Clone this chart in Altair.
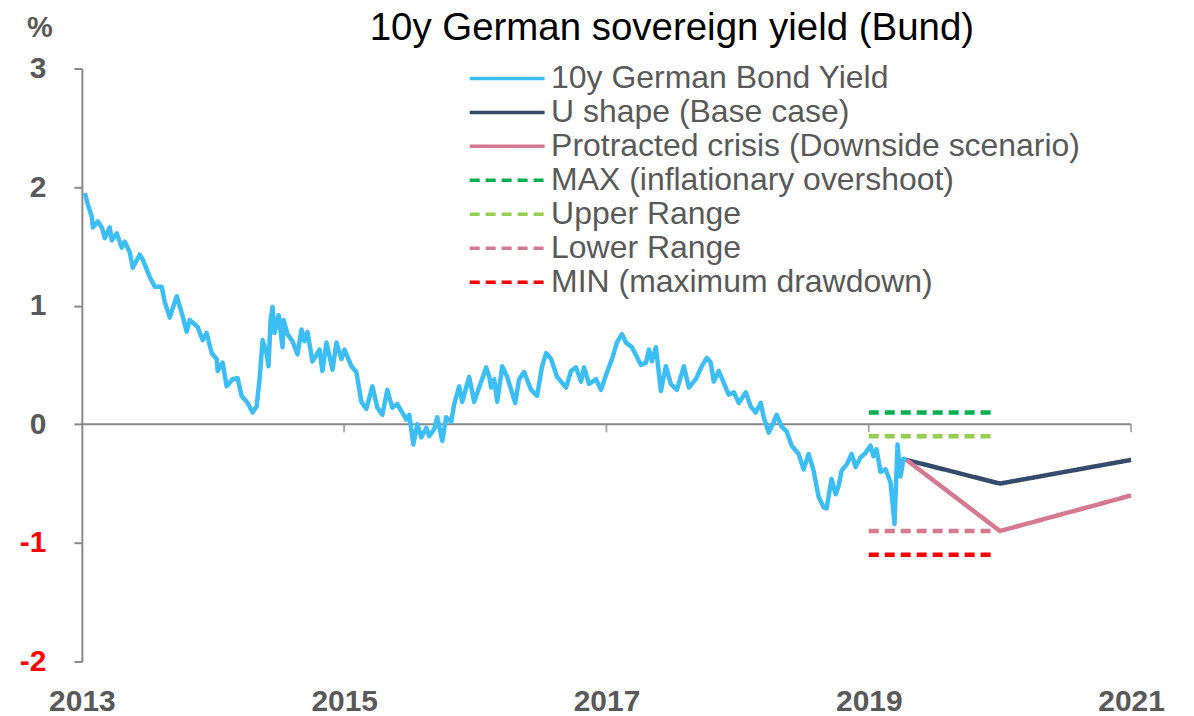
import altair as alt
import pandas as pd

FONT = "Liberation Sans"

# ---- data (x axis in label-years) ----
hist_years = [
    2013.023, 2013.046, 2013.076, 2013.084, 2013.122, 2013.152, 2013.175, 2013.213, 2013.228, 2013.266,
    2013.304, 2013.327, 2013.365, 2013.388, 2013.441, 2013.464, 2013.518, 2013.556, 2013.609, 2013.632,
    2013.670, 2013.723, 2013.769, 2013.799, 2013.822, 2013.883, 2013.921, 2013.951, 2013.990, 2014.028,
    2014.035, 2014.073, 2014.104, 2014.149, 2014.187, 2014.218, 2014.264, 2014.302, 2014.332, 2014.355,
    2014.378, 2014.408, 2014.423, 2014.439, 2014.454, 2014.469, 2014.500, 2014.530, 2014.538, 2014.568,
    2014.606, 2014.644, 2014.675, 2014.697, 2014.720, 2014.758, 2014.812, 2014.834, 2014.865, 2014.911,
    2014.941, 2014.979, 2015.002, 2015.055, 2015.093, 2015.131, 2015.169, 2015.215, 2015.253, 2015.291,
    2015.329, 2015.367, 2015.405, 2015.474, 2015.497, 2015.527, 2015.558, 2015.588, 2015.626, 2015.649,
    2015.687, 2015.710, 2015.748, 2015.778, 2015.816, 2015.839, 2015.877, 2015.900, 2015.953, 2015.991,
    2016.029, 2016.083, 2016.106, 2016.121, 2016.144, 2016.167, 2016.205, 2016.243, 2016.304, 2016.334,
    2016.372, 2016.425, 2016.471, 2016.509, 2016.540, 2016.578, 2016.623, 2016.692, 2016.730, 2016.768,
    2016.806, 2016.829, 2016.867, 2016.920, 2016.958, 2017.004, 2017.042, 2017.080, 2017.118, 2017.148,
    2017.194, 2017.263, 2017.301, 2017.324, 2017.346, 2017.377, 2017.415, 2017.453, 2017.491, 2017.537,
    2017.590, 2017.628, 2017.681, 2017.727, 2017.765, 2017.795, 2017.818, 2017.856, 2017.894, 2017.932,
    2017.971, 2018.009, 2018.062, 2018.100, 2018.138, 2018.176, 2018.199, 2018.237, 2018.275, 2018.298,
    2018.336, 2018.374, 2018.412, 2018.465, 2018.503, 2018.541, 2018.579, 2018.617, 2018.656, 2018.678,
    2018.716, 2018.747, 2018.770, 2018.793, 2018.831, 2018.869, 2018.899, 2018.937, 2018.975, 2019.013,
    2019.036, 2019.059, 2019.089, 2019.128, 2019.166, 2019.196, 2019.219, 2019.242, 2019.265, 2019.287,
]
hist_yield = [
    1.95, 1.85, 1.75, 1.66, 1.71, 1.66, 1.57, 1.66, 1.55, 1.61,
    1.49, 1.54, 1.45, 1.32, 1.43, 1.39, 1.24, 1.16, 1.16, 1.03,
    0.90, 1.08, 0.91, 0.78, 0.88, 0.82, 0.71, 0.77, 0.60, 0.55,
    0.45, 0.52, 0.32, 0.38, 0.39, 0.24, 0.18, 0.10, 0.15, 0.38,
    0.71, 0.60, 0.49, 0.88, 0.99, 0.77, 0.92, 0.65, 0.88, 0.76,
    0.70, 0.59, 0.80, 0.70, 0.78, 0.53, 0.63, 0.45, 0.69, 0.46,
    0.69, 0.55, 0.63, 0.49, 0.44, 0.19, 0.13, 0.32, 0.14, 0.08,
    0.29, 0.14, 0.17, 0.04, 0.08, -0.17, 0.00, -0.11, -0.03, -0.10,
    -0.04, 0.06, -0.14, 0.06, 0.02, 0.17, 0.32, 0.19, 0.40, 0.19,
    0.31, 0.48, 0.40, 0.31, 0.38, 0.19, 0.49, 0.40, 0.18, 0.38,
    0.44, 0.29, 0.24, 0.49, 0.60, 0.55, 0.40, 0.31, 0.45, 0.48,
    0.36, 0.48, 0.34, 0.38, 0.29, 0.44, 0.55, 0.69, 0.76, 0.69,
    0.65, 0.50, 0.52, 0.63, 0.53, 0.65, 0.28, 0.49, 0.34, 0.29,
    0.49, 0.31, 0.38, 0.49, 0.56, 0.52, 0.36, 0.45, 0.35, 0.25,
    0.27, 0.18, 0.27, 0.15, 0.10, 0.18, 0.06, -0.07, 0.02, 0.08,
    -0.02, -0.06, -0.18, -0.25, -0.38, -0.25, -0.39, -0.61, -0.70, -0.71,
    -0.46, -0.59, -0.52, -0.39, -0.34, -0.25, -0.36, -0.28, -0.24, -0.18,
    -0.27, -0.21, -0.40, -0.38, -0.49, -0.84, -0.17, -0.44, -0.29, -0.30,
]

scenario_years = [2019.287, 2020.0, 2021.0]
base_case = [-0.30, -0.50, -0.30]
downside = [-0.30, -0.90, -0.60]

range_years = [2019.0, 2019.96]
max_level = 0.10
upper_level = -0.10
lower_level = -0.90
min_level = -1.10

x_ticks = [2013, 2015, 2017, 2019, 2021]
y_ticks = [-2, -1, 0, 1, 2, 3]

title_text = "10y German sovereign yield (Bund)"
unit_text = "%"

series_names = [
    "10y German Bond Yield",
    "U shape (Base case)",
    "Protracted crisis (Downside scenario)",
    "MAX (inflationary overshoot)",
    "Upper Range",
    "Lower Range",
    "MIN (maximum drawdown)",
]
series_colors = ["#3CBEF5", "#344B6B", "#D4798F", "#00B050", "#92D050", "#D4798F", "#FF0000"]
series_dashes = [[1, 0], [1, 0], [1, 0], [10, 6], [10, 6], [10, 6], [10, 6]]

# ---- long table ----
rows = []
for i, (x, v) in enumerate(zip(hist_years, hist_yield)):
    rows.append({"series": series_names[0], "year": x, "value": v, "idx": i})
for i, (x, v) in enumerate(zip(scenario_years, base_case)):
    rows.append({"series": series_names[1], "year": x, "value": v, "idx": i})
for i, (x, v) in enumerate(zip(scenario_years, downside)):
    rows.append({"series": series_names[2], "year": x, "value": v, "idx": i})
for name, lvl in zip(series_names[3:], [max_level, upper_level, lower_level, min_level]):
    for i, x in enumerate(range_years):
        rows.append({"series": name, "year": x, "value": lvl, "idx": i})
df = pd.DataFrame(rows)

GRAY = "#898989"
LABEL = "#595959"

x_scale = alt.Scale(domain=[2013, 2021], nice=False, zero=False)
y_scale = alt.Scale(domain=[-2, 3], nice=False, zero=False)

# long thin legend symbol: path in a unit box scaled by sqrt(size)/2
legend = alt.Legend(
    title=None, orient="none", legendX=410, legendY=-6,
    symbolType="M-5,0H5", symbolSize=225, symbolStrokeWidth=3.5,
    labelFont=FONT, labelFontSize=32, labelColor=LABEL, labelLimit=0,
    labelOffset=28, rowPadding=2,
)

lines = alt.Chart(df).mark_line(strokeWidth=4.5, strokeJoin="round").encode(
    x=alt.X("year:Q", scale=x_scale,
            axis=alt.Axis(values=x_ticks, format="d", title=None, domain=False, ticks=False,
                          grid=False, labelFont=FONT, labelFontSize=30, labelFontWeight="bold",
                          labelColor=LABEL, labelPadding=25, labelFlush=False)),
    y=alt.Y("value:Q", scale=y_scale,
            axis=alt.Axis(values=y_ticks, labelExpr="'' + datum.value", title=None, grid=False,
                          domainColor=GRAY, domainWidth=2, tickColor=GRAY, tickWidth=2, tickSize=8,
                          labelFont=FONT, labelFontSize=30, labelFontWeight="bold",
                          labelColor=alt.condition("datum.value < 0", alt.value("#FF0000"), alt.value(LABEL)),
                          labelPadding=28)),
    color=alt.Color("series:N", scale=alt.Scale(domain=series_names, range=series_colors), legend=legend),
    strokeDash=alt.StrokeDash("series:N", scale=alt.Scale(domain=series_names, range=series_dashes), legend=legend),
    order=alt.Order("idx:Q"),
)

zero_line = alt.Chart(pd.DataFrame({"v": [0]})).mark_rule(color=GRAY, strokeWidth=2).encode(
    y=alt.Y("v:Q", scale=y_scale),
    x=alt.datum(x_ticks[0]),
    x2=alt.datum(x_ticks[-1]),
)

zero_ticks = alt.Chart(pd.DataFrame({"t": x_ticks[1:]})).mark_tick(
    color=GRAY, thickness=2, size=8, yOffset=4
).encode(
    x=alt.X("t:Q", scale=x_scale),
    y=alt.datum(0),
)

title_mark = alt.Chart(pd.DataFrame({"t": [title_text]})).mark_text(
    font=FONT, fontSize=38.5, color="black", align="center", baseline="middle"
).encode(text="t:N", x=alt.value(591), y=alt.value(-41))

unit_mark = alt.Chart(pd.DataFrame({"t": [unit_text]})).mark_text(
    font=FONT, fontSize=29, fontWeight="bold", color=LABEL, align="center", baseline="middle"
).encode(text="t:N", x=alt.value(-42), y=alt.value(-41))

chart = alt.layer(zero_line, zero_ticks, lines, title_mark, unit_mark).properties(
    width=1051, height=594,
    autosize=alt.AutoSizeParams(type="none"),
    padding={"left": 74, "top": 60, "right": 55, "bottom": 54},
).configure_view(stroke=None)

chart.save("out.html", embed_options={"renderer": "svg", "actions": False})
